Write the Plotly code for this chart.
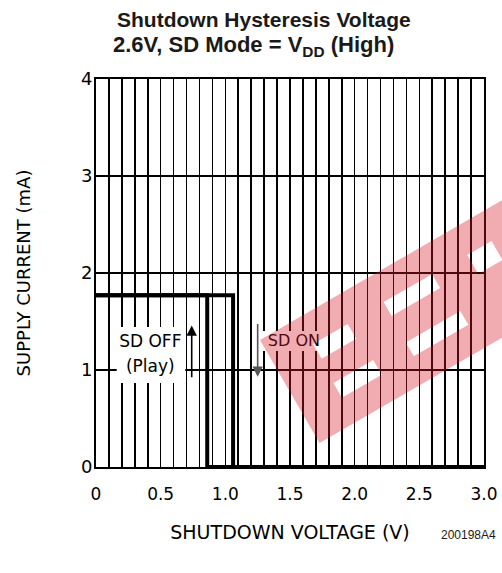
import math
import plotly.graph_objects as go

# ---------------- data ----------------
off_x = [0.0, 1.06, 1.06, 3.0]     # SD OFF -> ON transition (rising)
off_y = [1.77, 1.77, 0.0, 0.0]
on_x = [0.0, 0.86, 0.86, 3.0]      # SD ON -> OFF transition (falling)
on_y = [1.77, 1.77, 0.0, 0.0]
x_tickvals = [0, 0.5, 1.0, 1.5, 2.0, 2.5, 3.0]
x_ticktext = ["0", "0.5", "1.0", "1.5", "2.0", "2.5", "3.0"]
y_tickvals = [0, 1, 2, 3, 4]
y_ticktext = ["0", "1", "2", "3", "4"]
label_off = ["SD OFF", "(Play)"]
label_off_x = [0.42, 0.42]
label_off_y = [1.28, 1.02]
label_on = ["SD ON"]
label_on_x = [1.53]
label_on_y = [1.29]

W, H = 502, 573
PL, PR, PT, PB = 96, 484, 79, 467          # plot box in page pixels
ML, MR, MT, MB = PL, W - PR, PT, H - PB
PW, PH = PR - PL, PB - PT
FONT = "DejaVu Sans, Verdana, sans-serif"
TFONT = "Liberation Sans, Arial, Helvetica, sans-serif"


def px2paper(px, py):
    return (px - PL) / PW, (PB - py) / PH


fig = go.Figure()
for xs, ys in ((off_x, off_y), (on_x, on_y)):
    fig.add_trace(go.Scatter(x=xs, y=ys, mode="lines",
                             line=dict(color="black", width=4),
                             hoverinfo="skip", showlegend=False, cliponaxis=False))

fig.add_trace(go.Scatter(x=label_off_x, y=label_off_y, mode="text", text=label_off,
                         textposition="middle center",
                         textfont=dict(family=FONT, size=17, color="black"),
                         showlegend=False, hoverinfo="skip"))
fig.add_trace(go.Scatter(x=label_on_x, y=label_on_y, mode="text", text=label_on,
                         textposition="middle center",
                         textfont=dict(family=FONT, size=16, color="black"),
                         showlegend=False, hoverinfo="skip"))

shapes = []
# white label backgrounds (between grid and traces)
shapes.append(dict(type="rect", xref="x", yref="y", x0=0.16, x1=0.69, y0=0.866, y1=1.443,
                   fillcolor="white", line=dict(width=0), layer="between"))
shapes.append(dict(type="rect", xref="x", yref="y", x0=1.29, x1=1.77, y0=1.196, y1=1.402,
                   fillcolor="white", line=dict(width=0), layer="between"))

# watermark: rotated red band with white cut-outs (page pixel geometry)
ang = math.radians(30)
P0 = (260.0, 340.0)
u = (math.cos(ang), -math.sin(ang))
v = (math.sin(ang), math.cos(ang))


def local(s, t):
    return px2paper(P0[0] + s * u[0] + t * v[0], P0[1] + s * u[1] + t * v[1])


def rect_path(s0, s1, t0, t1):
    pts = [local(s0, t0), local(s1, t0), local(s1, t1), local(s0, t1)]
    return "M " + " L ".join(f"{a:.4f},{b:.4f}" for a, b in pts) + " Z"


path = rect_path(0, 330, 0, 119)
for s0, s1, t0, t1 in [(44, 84, 30, 47), (42, 88, 74, 91), (126, 182, 29, 45),
                       (125, 188, 75, 91), (222, 250, 30, 52)]:
    path += " " + rect_path(s0, s1, t0, t1)
shapes.append(dict(type="path", xref="paper", yref="paper", path=path,
                   fillcolor="rgba(215,25,40,0.36)", line=dict(width=0),
                   fillrule="evenodd", layer="above"))
fig.update_layout(shapes=shapes)

# arrows
fig.add_annotation(x=0.74, y=1.46, ax=0.74, ay=0.91, xref="x", yref="y", axref="x", ayref="y",
                   text="", showarrow=True, arrowhead=2, arrowsize=1.3, arrowwidth=1.6,
                   arrowcolor="black")
fig.add_annotation(x=1.25, y=0.93, ax=1.25, ay=1.49, xref="x", yref="y", axref="x", ayref="y",
                   text="", showarrow=True, arrowhead=2, arrowsize=1.3, arrowwidth=1.6,
                   arrowcolor="#555555")

# title (two lines)
tx, ty = px2paper(264, 19)
fig.add_annotation(xref="paper", yref="paper", x=tx, y=ty,
                   text="<b>Shutdown Hysteresis Voltage</b>", showarrow=False,
                   xanchor="center", yanchor="middle",
                   font=dict(family=TFONT, size=21, color="#1a1a1a"))
tx, ty = px2paper(253, 46)
fig.add_annotation(xref="paper", yref="paper", x=tx, y=ty,
                   text="<b>2.6V, SD Mode = V<sub>DD</sub> (High)</b>", showarrow=False,
                   xanchor="center", yanchor="middle",
                   font=dict(family=TFONT, size=22, color="#1a1a1a"))
# figure code
tx, ty = px2paper(498, 535)
fig.add_annotation(xref="paper", yref="paper", x=tx, y=ty,
                   text="200198A4", showarrow=False, xanchor="right", yanchor="middle",
                   font=dict(family=TFONT, size=12, color="#1a1a1a"))

fig.update_xaxes(range=[0, 3.0], tickvals=x_tickvals, ticktext=x_ticktext,
                 showgrid=True, gridcolor="black", gridwidth=1.6,
                 minor=dict(dtick=0.1, showgrid=True, gridcolor="black", gridwidth=1.6),
                 showline=True, linecolor="black", linewidth=2, mirror=True,
                 ticks="", zeroline=False, ticklabelstandoff=11,
                 tickfont=dict(family=FONT, size=17, color="black"),
                 title=dict(text="SHUTDOWN VOLTAGE (V)", standoff=22,
                            font=dict(family=FONT, size=19, color="black")))
fig.update_yaxes(range=[0, 4], tickvals=y_tickvals, ticktext=y_ticktext,
                 showgrid=True, gridcolor="black", gridwidth=1.3,
                 showline=True, linecolor="black", linewidth=2, mirror=True,
                 ticks="", zeroline=False, ticklabelstandoff=-2,
                 tickfont=dict(family=FONT, size=18, color="black"),
                 title=dict(text="SUPPLY CURRENT (mA)", standoff=46,
                            font=dict(family=FONT, size=18, color="black")))

fig.update_layout(width=W, height=H, margin=dict(l=ML, r=MR, t=MT, b=MB, autoexpand=False),
                  paper_bgcolor="white", plot_bgcolor="white", showlegend=False)

# remove the default 8px page margin so the figure fills the 502x573 window exactly
fig.write_html("out.html", config={"displayModeBar": False, "staticPlot": True},
               post_script="document.body.style.margin='0';"
                           "document.body.style.overflow='hidden';")
